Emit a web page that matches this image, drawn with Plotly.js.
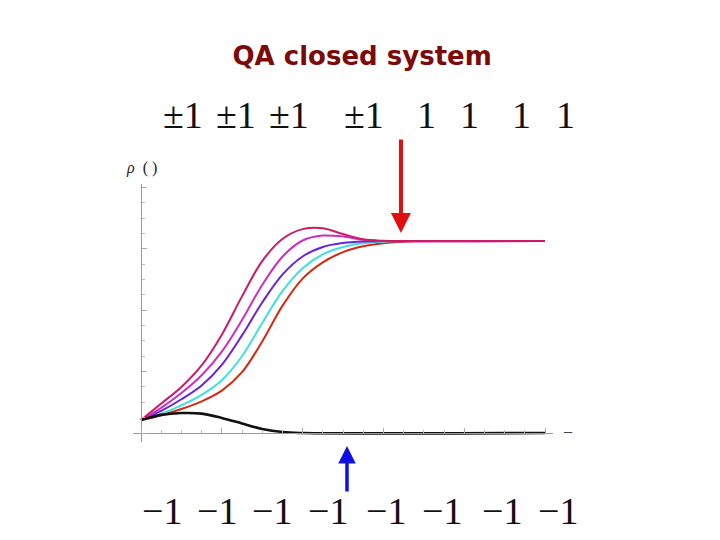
<!DOCTYPE html>
<html>
<head>
<meta charset="utf-8">
<script src="https://cdn.plot.ly/plotly-3.0.1.min.js"></script>
<style>html,body{margin:0;padding:0;background:#fff;}#chart{width:720px;height:540px;}</style>
</head>
<body>
<div id="chart"></div>
<script>
// ---- data (x in time units, y = population rho) ----
const crimsonX = [0,1,2,3,4,5,6,7,8,9,10,11,12,13,20];
const crimsonY = [0.042,0.096,0.150,0.220,0.320,0.445,0.560,0.632,0.664,0.667,0.648,0.631,0.626,0.625,0.625];

const magentaX = [0,1,2,3,4,5,6,7,8,9,10,11,12,20];
const magentaY = [0.042,0.082,0.130,0.188,0.265,0.368,0.482,0.574,0.627,0.643,0.640,0.629,0.625,0.625];

const purpleX = [0,1,2,3,4,5,6,7,8,9,10,11,12,20];
const purpleY = [0.042,0.072,0.110,0.155,0.222,0.318,0.425,0.516,0.575,0.606,0.619,0.624,0.625,0.625];

const cyanX = [0,1,2,3,4,5,6,7,8,9,10,11,12,13,20];
const cyanY = [0.042,0.063,0.090,0.124,0.172,0.250,0.358,0.462,0.537,0.582,0.606,0.618,0.623,0.625,0.625];

const redX = [0,1,2,3,4,5,6,7,8,9,10,11,12,13,14,20];
const redY = [0.042,0.058,0.078,0.103,0.138,0.198,0.298,0.414,0.503,0.556,0.589,0.608,0.618,0.623,0.625,0.625];

const blackX = [0,1,2,3,4,5,6,7,8,20];
const blackY = [0.042,0.059,0.065,0.063,0.049,0.031,0.013,0.003,0,0];

const topLabels = ["±1","±1","±1","±1","1","1","1","1"];
const bottomLabels = ["\u22121","\u22121","\u22121","\u22121","\u22121","\u22121","\u22121","\u22121"];
const topPos = [0.119,0.245,0.371,0.55,0.698,0.802,0.926,1.029];
const bottomPos = [0.069,0.2,0.331,0.464,0.602,0.736,0.879,1.012];

const series = [
  {x: redX, y: redY, color: '#d42a14'},
  {x: cyanX, y: cyanY, color: '#3ee0e0'},
  {x: purpleX, y: purpleY, color: '#6a22d8'},
  {x: magentaX, y: magentaY, color: '#cc2fc0'},
  {x: crimsonX, y: crimsonY, color: '#cc1a66'},
  {x: blackX, y: blackY, color: '#111111'}
];

const traces = series.map((s, i) => ({
  x: s.x, y: s.y, type: 'scatter', mode: 'lines',
  line: {color: s.color, width: i === 5 ? 2.6 : 2, shape: 'spline', smoothing: 1},
  hoverinfo: 'none', showlegend: false
}));

const annotations = [];
topLabels.forEach((t, i) => annotations.push({
  text: t, xref: 'paper', yref: 'paper', x: topPos[i], y: 1.267,
  showarrow: false, xanchor: 'center', yanchor: 'middle',
  font: {family: 'Liberation Serif', size: 38, color: '#111'}
}));
bottomLabels.forEach((t, i) => annotations.push({
  text: t, xref: 'paper', yref: 'paper', x: bottomPos[i], y: -0.267,
  showarrow: false, xanchor: 'center', yanchor: 'middle',
  font: {family: 'Liberation Serif', size: 38, color: '#111'}
}));
annotations.push({
  text: '<i>ρ</i>  ( )', xref: 'paper', yref: 'paper', x: 0.021, y: 1.062,
  showarrow: false, xanchor: 'center', yanchor: 'middle',
  font: {family: 'Liberation Serif', size: 16, color: '#222'}
});
annotations.push({
  text: '–', xref: 'paper', yref: 'paper', x: 1.036, y: 0.043,
  showarrow: false, xanchor: 'center', yanchor: 'middle',
  font: {family: 'Liberation Serif', size: 16, color: '#444'}
});
// red arrow (down)
annotations.push({
  text: '', xref: 'paper', yref: 'paper', x: 0.638, y: 0.81,
  showarrow: true, arrowhead: 2, arrowsize: 1, arrowwidth: 4,
  arrowcolor: '#e01010', ax: 0, ay: -95
});
// blue arrow (up)
annotations.push({
  text: '', xref: 'paper', yref: 'paper', x: 0.5095, y: -0.0155,
  showarrow: true, arrowhead: 2, arrowsize: 1, arrowwidth: 3.5,
  arrowcolor: '#1010e0', ax: 0, ay: 47
});

const layout = {
  width: 720, height: 540,
  margin: {l: 133, r: 167, t: 184, b: 98},
  paper_bgcolor: '#fff', plot_bgcolor: '#fff',
  title: {
    text: '<b>QA closed system</b>',
    font: {family: 'DejaVu Sans', size: 26, color: '#7b0a0a'},
    xref: 'container', yref: 'container', x: 0.503, y: 0.896,
    xanchor: 'center', yanchor: 'middle'
  },
  xaxis: {
    range: [-0.396, 20.396], anchor: 'free', position: 0.0349,
    showline: true, linecolor: '#9a9a9a', linewidth: 1,
    ticks: 'inside', tick0: 0, dtick: 4, ticklen: 5, tickcolor: '#aaa',
    minor: {ticks: 'inside', dtick: 1, ticklen: 3, tickcolor: '#bbb'},
    showticklabels: false, showgrid: false, zeroline: false, fixedrange: true
  },
  yaxis: {
    range: [-0.0293, 0.811], anchor: 'free', position: 0.019,
    showline: true, linecolor: '#9a9a9a', linewidth: 1,
    ticks: 'inside', tick0: 0, dtick: 0.2, ticklen: 5, tickcolor: '#aaa',
    minor: {ticks: 'inside', dtick: 0.05, ticklen: 3, tickcolor: '#bbb'},
    showticklabels: false, showgrid: false, zeroline: false, fixedrange: true
  },
  annotations: annotations,
  showlegend: false
};

Plotly.newPlot('chart', traces, layout, {staticPlot: true, displayModeBar: false});
</script>
</body>
</html>
